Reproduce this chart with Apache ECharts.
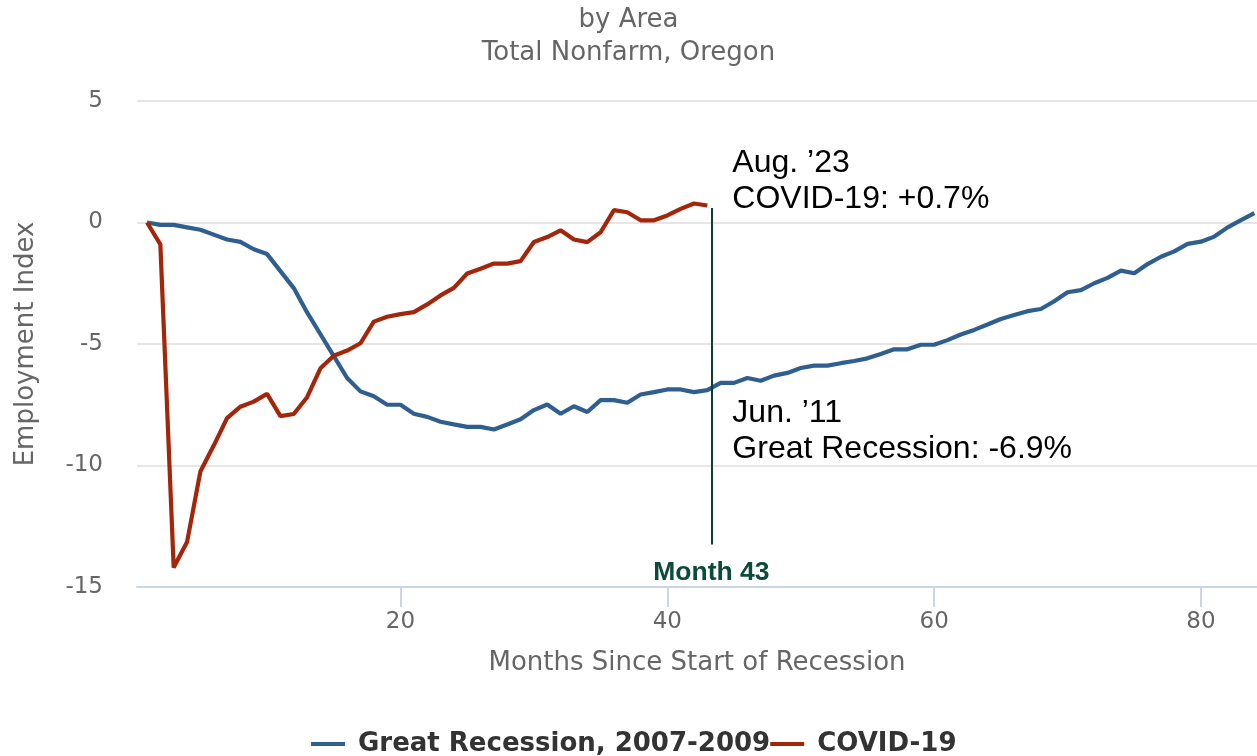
<!DOCTYPE html>
<html>
<head>
<meta charset="utf-8">
<script src="https://cdn.jsdelivr.net/npm/echarts@6/dist/echarts.min.js"></script>
<style>
  html, body { margin: 0; padding: 0; background: #fff; }
  #chart { width: 1257px; height: 756px; }
</style>
</head>
<body>
<div id="chart"></div>
<script>
// ---- Data (months since start of recession, employment index %) ----
const startMonth = 1;
const greatRecession = [
  0, -0.1, -0.1, -0.2, -0.3, -0.5, -0.7, -0.8, -1.1, -1.3,
  -2.0, -2.7, -3.7, -4.6, -5.5, -6.4, -6.95, -7.15, -7.5, -7.5,
  -7.87, -8.0, -8.2, -8.31, -8.41, -8.41, -8.52, -8.31, -8.1, -7.72,
  -7.49, -7.87, -7.56, -7.8, -7.31, -7.31, -7.42, -7.08, -6.98, -6.87,
  -6.87, -6.98, -6.9, -6.6, -6.6, -6.4, -6.51, -6.3, -6.19, -5.99,
  -5.89, -5.89, -5.79, -5.70, -5.59, -5.41, -5.22, -5.22, -5.03, -5.03,
  -4.84, -4.61, -4.42, -4.2, -3.97, -3.81, -3.65, -3.56, -3.24, -2.87,
  -2.78, -2.5, -2.28, -1.98, -2.09, -1.71, -1.41, -1.19, -0.88, -0.79,
  -0.58, -0.2, 0.1, 0.39
];
const covid19 = [
  0, -0.9, -14.2, -13.15, -10.25, -9.18, -8.05, -7.58, -7.37, -7.05,
  -7.97, -7.88, -7.19, -6.0, -5.48, -5.27, -4.97, -4.08, -3.88, -3.77,
  -3.69, -3.37, -3.0, -2.69, -2.1, -1.9, -1.69, -1.69, -1.59, -0.8,
  -0.6, -0.32, -0.7, -0.81, -0.4, 0.51, 0.42, 0.09, 0.09, 0.29,
  0.56, 0.78, 0.7
];
const seriesNames = ['Great Recession, 2007-2009', 'COVID-19'];
const xTickValues = [20, 40, 60, 80];
const titleText = 'by Area';
const subtitleText = 'Total Nonfarm, Oregon';
const xAxisName = 'Months Since Start of Recession';
const yAxisName = 'Employment Index';
const markerMonth = 43;
const markerLabel = 'Month 43';
const covidNote = ['Aug. \u201923', 'COVID-19: +0.7%'];
const greatNote = ['Jun. \u201911', 'Great Recession: -6.9%'];

// ---- Build ----
const toPairs = arr => arr.map((v, i) => [startMonth + i, v]);
const font = 'DejaVu Sans';
const noteFont = 'Liberation Sans, Arial, sans-serif';
const markerX = markerMonth + 0.3;

const chart = echarts.init(document.getElementById('chart'), null, { renderer: 'canvas' });

const option = {
  animation: false,
  backgroundColor: '#ffffff',
  title: [
    { text: titleText, left: 'center', top: 2,
      textStyle: { fontFamily: font, fontSize: 26, fontWeight: 'normal', color: '#666666' } },
    { text: subtitleText, left: 'center', top: 35,
      textStyle: { fontFamily: font, fontSize: 26, fontWeight: 'normal', color: '#666666' } }
  ],
  grid: { left: 137, right: 0, top: 101, bottom: 169, containLabel: false },
  legend: {
    top: 726, left: 306, itemGap: 0,
    icon: 'rect', itemWidth: 34, itemHeight: 4,
    textStyle: { fontFamily: font, fontSize: 26, fontWeight: 'bold', color: '#333333', padding: [0, 0, 0, 8] },
    data: seriesNames
  },
  xAxis: {
    type: 'value', min: 0.25, max: 84.2,
    name: xAxisName, nameLocation: 'middle', nameGap: 63,
    nameTextStyle: { fontFamily: font, fontSize: 26, color: '#666666' },
    axisLine: { show: true, onZero: false, lineStyle: { color: '#ccd6eb', width: 2 } },
    axisTick: { show: true, length: 20, customValues: xTickValues, lineStyle: { color: '#ccd6eb', width: 2 } },
    axisLabel: { customValues: xTickValues, margin: 24, fontFamily: font, fontSize: 23, color: '#666666' },
    splitLine: { show: false }
  },
  yAxis: {
    type: 'value', min: -15, max: 5, interval: 5,
    name: yAxisName, nameLocation: 'middle', nameGap: 98,
    nameTextStyle: { fontFamily: font, fontSize: 26, color: '#666666' },
    axisLine: { show: false }, axisTick: { show: false },
    axisLabel: { margin: 34, fontFamily: font, fontSize: 23, color: '#666666' },
    splitLine: { lineStyle: { color: '#e6e6e6', width: 2 } }
  },
  series: [
    {
      name: seriesNames[0], type: 'line', data: toPairs(greatRecession),
      showSymbol: false, symbol: 'none',
      lineStyle: { color: '#2f5f8e', width: 4.2 }, itemStyle: { color: '#2f5f8e' }
    },
    {
      name: seriesNames[1], type: 'line', data: toPairs(covid19),
      showSymbol: false, symbol: 'none',
      lineStyle: { color: '#a3260b', width: 4.2 }, itemStyle: { color: '#a3260b' },
      markLine: {
        silent: true, symbol: 'none', label: { show: false },
        lineStyle: { color: '#0c3f30', width: 2, type: 'solid' },
        data: [[{ coord: [markerX, 0.6] }, { coord: [markerX, -13.25] }]]
      }
    }
  ]
};
chart.setOption(option);

// ---- Annotations placed via the axis scales ----
const p0 = chart.convertToPixel({ gridIndex: 0 }, [markerX, 0]);
const pLab = chart.convertToPixel({ gridIndex: 0 }, [markerX, -14.42]);
const pCov = chart.convertToPixel({ gridIndex: 0 }, [markerX, 2.45]);
const pGr = chart.convertToPixel({ gridIndex: 0 }, [markerX, -7.85]);
const noteX = p0[0] + 21;
const lineGap = 36;
const mkText = (t, x, y, extra) => Object.assign({
  type: 'text', x: x, y: y, silent: true,
  style: Object.assign({ text: t, fill: '#000000', font: '32px ' + noteFont,
    textAlign: 'left', textVerticalAlign: 'middle' }, extra || {})
});
chart.setOption({
  graphic: [
    mkText(covidNote[0], noteX, pCov[1]),
    mkText(covidNote[1], noteX, pCov[1] + lineGap),
    mkText(greatNote[0], noteX, pGr[1]),
    mkText(greatNote[1], noteX, pGr[1] + lineGap),
    mkText(markerLabel, pLab[0], pLab[1], { fill: '#0c4a3a', font: 'bold 26.5px ' + noteFont, textAlign: 'center' })
  ]
});
</script>
</body>
</html>
